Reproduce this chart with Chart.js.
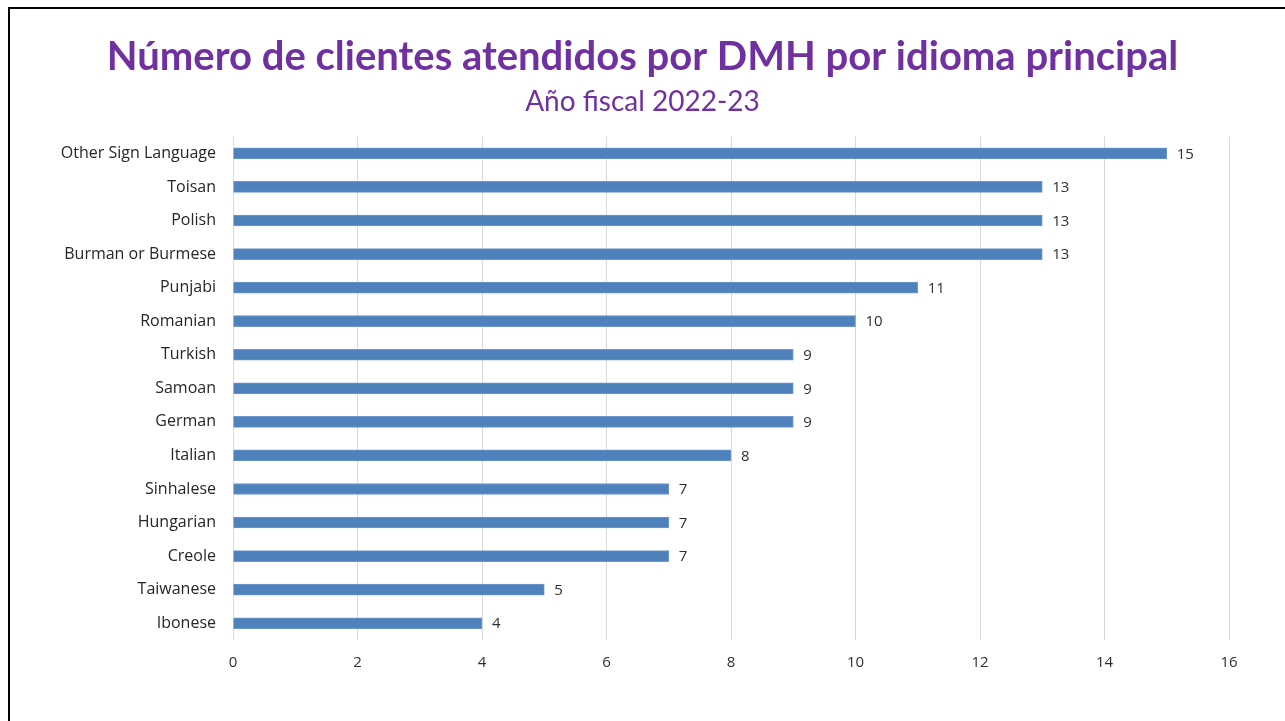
<!DOCTYPE html>
<html>
<head>
<meta charset="utf-8">
<script src="https://cdn.jsdelivr.net/npm/chart.js@4"></script>
<style>
  html, body { margin: 0; padding: 0; background: #fff; overflow: hidden; }
  #wrap { position: relative; width: 1285px; height: 721px; }
  #frame { position: absolute; left: 8px; top: 7px; width: 1290px; height: 730px;
           border-left: 2px solid #000; border-top: 2px solid #000; }
  canvas { position: absolute; left: 0; top: 0; }
</style>
</head>
<body>
<div id="wrap">
  <div id="frame"></div>
  <canvas id="chart" width="1285" height="721"></canvas>
</div>
<script>
const languages = ['Other Sign Language', 'Toisan', 'Polish', 'Burman or Burmese', 'Punjabi',
    'Romanian', 'Turkish', 'Samoan', 'German', 'Italian', 'Sinhalese', 'Hungarian',
    'Creole', 'Taiwanese', 'Ibonese'];
const clients = [15, 13, 13, 13, 11, 10, 9, 9, 9, 8, 7, 7, 7, 5, 4];

const TITLE_FONT = 'Lato, "Open Sans", sans-serif';
const FONT = '"Open Sans", Lato, sans-serif';

// value labels at the end of each bar
const barLabels = {
    id: 'barLabels',
    afterDatasetsDraw(chart) {
        const ctx = chart.ctx;
        const meta = chart.getDatasetMeta(0);
        ctx.save();
        ctx.fillStyle = '#303030';
        ctx.font = '15px ' + FONT;
        ctx.textAlign = 'left';
        ctx.textBaseline = 'middle';
        meta.data.forEach((bar, i) => {
            ctx.fillText(String(clients[i]), bar.x + 10, bar.y + 1);
        });
        ctx.restore();
    }
};

new Chart(document.getElementById('chart').getContext('2d'), {
    type: 'bar',
    data: {
        labels: languages,
        datasets: [{
            data: clients,
            backgroundColor: '#4F81BD',
            borderColor: '#6E98CB',
            borderWidth: 1,
            barThickness: 11
        }]
    },
    options: {
        indexAxis: 'y',
        responsive: false,
        animation: false,
        layout: { padding: { left: 56, right: 56, top: 0, bottom: 0 } },
        plugins: {
            legend: { display: false },
            tooltip: { enabled: false },
            title: {
                display: true,
                text: 'Número de clientes atendidos por DMH por idioma principal',
                color: '#7030A0',
                font: { family: TITLE_FONT, size: 40, weight: 'bold' },
                padding: { top: 33, bottom: 0 }
            },
            subtitle: {
                display: true,
                text: 'Año fiscal 2022-23',
                color: '#7030A0',
                font: { family: TITLE_FONT, size: 28, weight: 'normal' },
                padding: { top: 4, bottom: 18 }
            }
        },
        scales: {
            x: {
                min: 0,
                max: 16,
                ticks: { stepSize: 2, color: '#303030', font: { family: FONT, size: 15 }, padding: 14 },
                grid: { color: '#D9D9D9', lineWidth: 1, drawTicks: false },
                border: { display: false },
                afterFit(scale) { scale.height = 81; }
            },
            y: {
                ticks: { color: '#262626', font: { family: FONT, size: 16 }, padding: 17 },
                grid: { display: false, drawTicks: false },
                border: { display: false },
                afterFit(scale) { scale.width = 177; }
            }
        }
    },
    plugins: [barLabels]
});
</script>
</body>
</html>
